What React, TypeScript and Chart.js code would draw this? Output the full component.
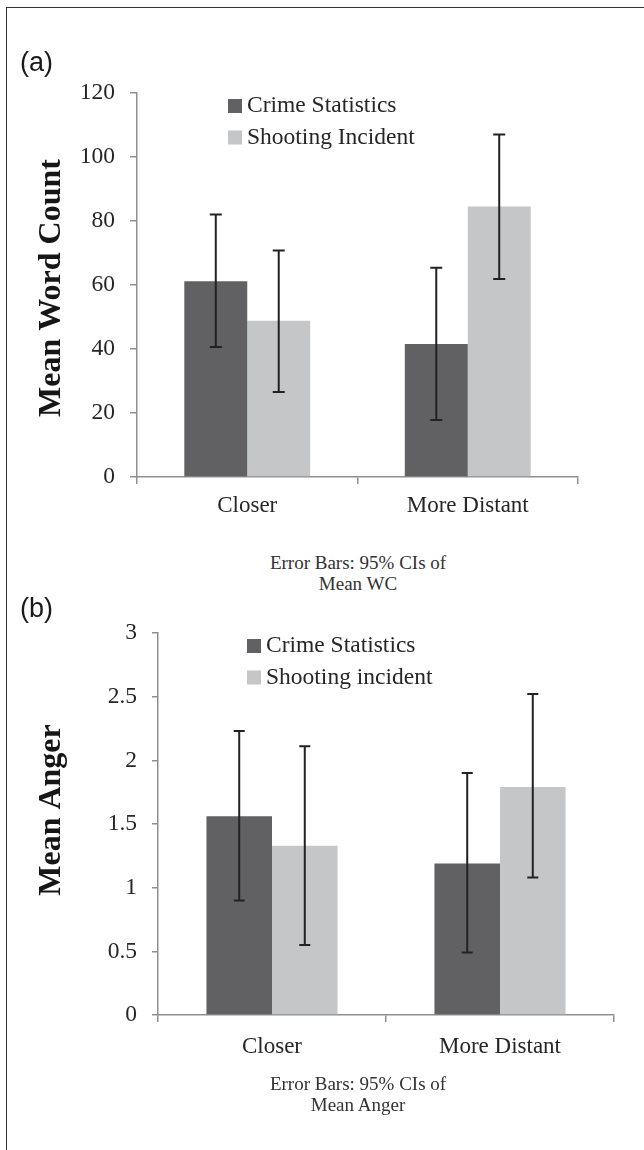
import React, { useEffect, useRef } from "react";
import { Chart, registerables } from "chart.js";

Chart.register(...registerables);

// ---------- data ----------
const categories = ["Closer", "More Distant"];

const legendA = ["Crime Statistics", "Shooting Incident"];
const crimeWC = [61.2, 41.6];
const crimeWCLow = [40.6, 17.8];
const crimeWCHigh = [82.0, 65.4];
const shootWC = [48.8, 84.5];
const shootWCLow = [26.6, 61.9];
const shootWCHigh = [70.8, 107.0];
const wcTicks = [0, 20, 40, 60, 80, 100, 120];

const legendB = ["Crime Statistics", "Shooting incident"];
const crimeAnger = [1.56, 1.19];
const crimeAngerLow = [0.9, 0.49];
const crimeAngerHigh = [2.23, 1.9];
const shootAnger = [1.33, 1.79];
const shootAngerLow = [0.55, 1.08];
const shootAngerHigh = [2.11, 2.52];
const angerTicks = [0, 0.5, 1, 1.5, 2, 2.5, 3];

const captionA = ["Error Bars: 95% CIs of", "Mean WC"];
const captionB = ["Error Bars: 95% CIs of", "Mean Anger"];

// ---------- styles ----------
const SERIF = "'Liberation Serif', 'DejaVu Serif', serif";
const SANS = "'Liberation Sans', Arial, sans-serif";
const DARK = "#616163";
const LIGHT = "#c5c6c8";
const AXIS = "#8f8f8f";
const TEXT = "#262626";

const errorBarPlugin = {
  id: "errorBars",
  afterDatasetsDraw(chart: any, _args: any, opts: any) {
    const ctx = chart.ctx;
    const y = chart.scales.y;
    chart.data.datasets.forEach((ds: any, i: number) => {
      const meta = chart.getDatasetMeta(i);
      meta.data.forEach((bar: any, j: number) => {
        const x = bar.x;
        const yl = y.getPixelForValue(ds.errLow[j]);
        const yh = y.getPixelForValue(ds.errHigh[j]);
        const c = opts.cap;
        ctx.save();
        ctx.strokeStyle = opts.color;
        ctx.lineWidth = opts.width;
        ctx.beginPath();
        ctx.moveTo(x, yl);
        ctx.lineTo(x, yh);
        ctx.moveTo(x - c, yl);
        ctx.lineTo(x + c, yl);
        ctx.moveTo(x - c, yh);
        ctx.lineTo(x + c, yh);
        ctx.stroke();
        ctx.restore();
      });
    });
  },
};

const boxLegendPlugin = {
  id: "boxLegend",
  afterDraw(chart: any, _args: any, opts: any) {
    const ctx = chart.ctx;
    ctx.save();
    chart.data.datasets.forEach((ds: any, i: number) => {
      const cy = opts.y + i * opts.rowGap;
      ctx.fillStyle = ds.backgroundColor;
      ctx.fillRect(opts.x, cy - opts.box / 2, opts.box, opts.box);
      ctx.fillStyle = opts.color;
      ctx.font = opts.font;
      ctx.textBaseline = "middle";
      ctx.textAlign = "left";
      ctx.fillText(ds.label, opts.x + opts.box + opts.gap, cy);
    });
    ctx.restore();
  },
};

const yTitlePlugin = {
  id: "yTitle",
  afterDraw(chart: any, _args: any, opts: any) {
    const ctx = chart.ctx;
    ctx.save();
    ctx.translate(opts.x, opts.y);
    ctx.rotate(-Math.PI / 2);
    ctx.font = opts.font;
    ctx.fillStyle = opts.color;
    ctx.textAlign = "center";
    ctx.textBaseline = "middle";
    ctx.fillText(opts.text, 0, 0);
    ctx.restore();
  },
};

type PanelProps = {
  width: number;
  height: number;
  labels: string[];
  seriesNames: string[];
  v1: number[];
  lo1: number[];
  hi1: number[];
  v2: number[];
  lo2: number[];
  hi2: number[];
  ticks: number[];
  yMax: number;
  yAxisWidth: number;
  padTop: number;
  padRight: number;
  xAxisHeight: number;
  catPct: number;
  tickPad: number;
  yTickLen: number;
  xLabelPad: number;
  cap: number;
  legend: { x: number; y: number; rowGap: number };
  yTitle: { text: string; x: number; y: number };
};

function Panel(p: PanelProps) {
  const ref = useRef<HTMLCanvasElement | null>(null);
  useEffect(() => {
    if (!ref.current) return;
    const chart = new Chart(ref.current, {
      type: "bar",
      data: {
        labels: p.labels,
        datasets: [
          {
            label: p.seriesNames[0],
            data: p.v1,
            backgroundColor: DARK,
            borderWidth: 0,
            errLow: p.lo1,
            errHigh: p.hi1,
          } as any,
          {
            label: p.seriesNames[1],
            data: p.v2,
            backgroundColor: LIGHT,
            borderWidth: 0,
            errLow: p.lo2,
            errHigh: p.hi2,
          } as any,
        ],
      },
      options: {
        responsive: false,
        animation: false,
        events: [],
        datasets: {
          bar: { categoryPercentage: p.catPct, barPercentage: 1 },
        },
        layout: {
          padding: { top: p.padTop, right: p.padRight, left: 0, bottom: 0 },
        },
        scales: {
          x: {
            type: "category",
            grid: {
              display: true,
              drawOnChartArea: false,
              drawTicks: true,
              tickLength: 7,
              color: AXIS,
              lineWidth: 1.5,
              offset: true,
            },
            border: { display: true, color: AXIS, width: 1.5 },
            ticks: {
              font: { family: SERIF, size: 23 },
              color: TEXT,
              padding: p.xLabelPad,
              maxRotation: 0,
            },
            afterFit: (s: any) => {
              s.height = p.xAxisHeight;
            },
          },
          y: {
            min: 0,
            max: p.yMax,
            afterBuildTicks: (s: any) => {
              s.ticks = p.ticks.map((v) => ({ value: v }));
            },
            grid: {
              display: true,
              drawOnChartArea: false,
              drawTicks: true,
              tickLength: p.yTickLen,
              color: AXIS,
              lineWidth: 1.5,
            },
            border: { display: true, color: AXIS, width: 1.5 },
            ticks: {
              font: { family: SERIF, size: 23.5 },
              color: TEXT,
              padding: p.tickPad,
              callback: (v: any) => String(v),
            },
            afterFit: (s: any) => {
              s.width = p.yAxisWidth;
            },
          },
        },
        plugins: {
          legend: { display: false },
          tooltip: { enabled: false },
          title: { display: false },
          errorBars: { color: "#222222", width: 2, cap: p.cap },
          boxLegend: {
            x: p.legend.x,
            y: p.legend.y,
            rowGap: p.legend.rowGap,
            box: 14,
            gap: 5,
            font: `23.5px ${SERIF}`,
            color: TEXT,
          },
          yTitle: {
            text: p.yTitle.text,
            x: p.yTitle.x,
            y: p.yTitle.y,
            font: `bold 32px ${SERIF}`,
            color: "#161616",
          },
        } as any,
      },
      plugins: [errorBarPlugin, boxLegendPlugin, yTitlePlugin],
    });
    return () => chart.destroy();
  }, []);
  return (
    <canvas
      ref={ref}
      width={p.width}
      height={p.height}
      style={{ display: "block", width: p.width, height: p.height }}
    />
  );
}

const captionStyle: React.CSSProperties = {
  position: "absolute",
  left: 208,
  width: 300,
  textAlign: "center",
  fontFamily: SERIF,
  fontSize: 19,
  lineHeight: "21px",
  color: "#333",
  whiteSpace: "nowrap",
};

const panelLabelStyle: React.CSSProperties = {
  position: "absolute",
  left: 20,
  fontFamily: SANS,
  fontSize: 27,
  lineHeight: "30px",
  color: "#1a1a1a",
};

export default function App() {
  return (
    <div
      style={{
        position: "absolute",
        left: 0,
        top: 0,
        width: 644,
        height: 1150,
        overflow: "hidden",
        background: "#ffffff",
      }}
    >
      <div
        style={{
          position: "absolute",
          left: 6,
          top: 7,
          width: 660,
          height: 1160,
          borderLeft: "1.5px solid #333",
          borderTop: "1.5px solid #333",
        }}
      />
      <div style={{ position: "absolute", left: 0, top: 0 }}>
        <Panel
          width={644}
          height={530}
          labels={categories}
          seriesNames={legendA}
          v1={crimeWC}
          lo1={crimeWCLow}
          hi1={crimeWCHigh}
          v2={shootWC}
          lo2={shootWCLow}
          hi2={shootWCHigh}
          ticks={wcTicks}
          yMax={120}
          yAxisWidth={137}
          padTop={93}
          padRight={66}
          xAxisHeight={53}
          catPct={0.571}
          tickPad={15}
          yTickLen={7}
          xLabelPad={8}
          cap={6}
          legend={{ x: 228, y: 106, rowGap: 31.5 }}
          yTitle={{ text: "Mean Word Count", x: 52, y: 288 }}
        />
      </div>
      <div style={{ position: "absolute", left: 0, top: 600 }}>
        <Panel
          width={644}
          height={480}
          labels={categories}
          seriesNames={legendB}
          v1={crimeAnger}
          lo1={crimeAngerLow}
          hi1={crimeAngerHigh}
          v2={shootAnger}
          lo2={shootAngerLow}
          hi2={shootAngerHigh}
          ticks={angerTicks}
          yMax={3}
          yAxisWidth={158}
          padTop={33}
          padRight={30}
          xAxisHeight={65}
          catPct={0.575}
          tickPad={15}
          yTickLen={6}
          xLabelPad={11}
          cap={5.5}
          legend={{ x: 247, y: 46, rowGap: 31.5 }}
          yTitle={{ text: "Mean Anger", x: 52, y: 210 }}
        />
      </div>
      <div style={{ ...panelLabelStyle, top: 47 }}>(a)</div>
      <div style={{ ...panelLabelStyle, top: 593 }}>(b)</div>
      <div style={{ ...captionStyle, top: 552 }}>
        {captionA.map((t, i) => (
          <div key={i}>{t}</div>
        ))}
      </div>
      <div style={{ ...captionStyle, top: 1073 }}>
        {captionB.map((t, i) => (
          <div key={i}>{t}</div>
        ))}
      </div>
    </div>
  );
}
